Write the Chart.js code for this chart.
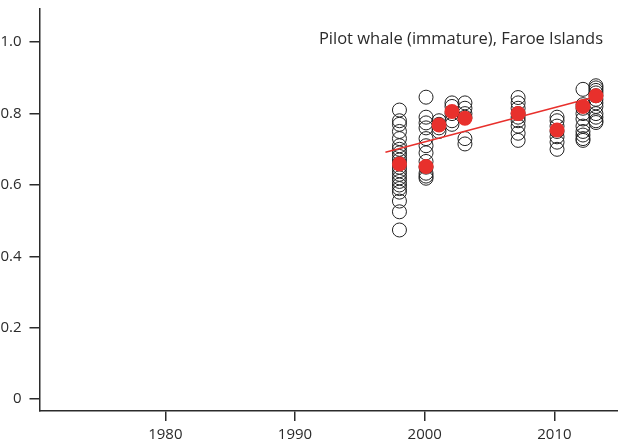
<!DOCTYPE html>
<html>
<head>
<meta charset="utf-8">
<script src="https://cdn.jsdelivr.net/npm/chart.js@4"></script>
<style>
  html, body { margin: 0; padding: 0; background: #fff; }
  #wrap { width: 618px; height: 447px; }
</style>
</head>
<body>
<div id="wrap"><canvas id="chart" width="618" height="447"></canvas></div>
<script>
// sampling years (as placed on the time axis)
const sampleYears = [1998.05, 2000.1, 2001.1, 2002.1, 2003.1, 2007.2, 2010.2, 2012.2, 2013.2];

// individual whales per sampling year
const samples1998 = [0.81, 0.78, 0.77, 0.75, 0.73, 0.71, 0.70, 0.69, 0.68, 0.67, 0.66, 0.65, 0.64, 0.63, 0.62, 0.61, 0.60, 0.59, 0.58, 0.555, 0.525, 0.474];
const samples2000 = [0.846, 0.79, 0.774, 0.76, 0.73, 0.71, 0.69, 0.666, 0.65, 0.633, 0.625, 0.619];
const samples2001 = [0.78, 0.77, 0.76, 0.75];
const samples2002 = [0.83, 0.82, 0.80, 0.78, 0.77];
const samples2003 = [0.83, 0.815, 0.80, 0.79, 0.73, 0.715];
const samples2007 = [0.845, 0.83, 0.815, 0.80, 0.79, 0.78, 0.765, 0.745, 0.725];
const samples2010 = [0.79, 0.78, 0.765, 0.75, 0.735, 0.72, 0.70];
const samples2012 = [0.868, 0.825, 0.815, 0.80, 0.785, 0.765, 0.75, 0.74, 0.73, 0.725];
const samples2013 = [0.878, 0.872, 0.865, 0.858, 0.85, 0.84, 0.83, 0.82, 0.80, 0.79, 0.78, 0.775];

// yearly means (red dots)
const meanValues = [0.659, 0.652, 0.768, 0.806, 0.787, 0.80, 0.754, 0.82, 0.85];

// fitted trend
const trendYears = [1996.97, 2013.69];
const trendValues = [0.692, 0.852];

const xTicks = [1980, 1990, 2000, 2010];
const yTicks = [0, 0.2, 0.4, 0.6, 0.8, 1.0];
const titleText = 'Pilot whale (immature), Faroe Islands';

const allSamples = [samples1998, samples2000, samples2001, samples2002, samples2003,
                    samples2007, samples2010, samples2012, samples2013];

let openPoints = [];
for (let i = 0; i < sampleYears.length; i++) {
    for (let j = 0; j < allSamples[i].length; j++) {
        openPoints.push({ x: sampleYears[i], y: allSamples[i][j] });
    }
}
const meanPoints = sampleYears.map((yr, i) => ({ x: yr, y: meanValues[i] }));
const trendPoints = trendYears.map((yr, i) => ({ x: yr, y: trendValues[i] }));

const FONT = '"Open Sans", "Liberation Sans", sans-serif';
const INK = '#2b2b2b';

// название внутри области графика
const titlePlugin = {
    id: 'innerTitle',
    afterDraw(chart) {
        const ctx = chart.ctx;
        ctx.save();
        ctx.font = '16.5px ' + FONT;
        ctx.fillStyle = INK;
        ctx.textAlign = 'right';
        ctx.textBaseline = 'middle';
        ctx.fillText(titleText, 603, 39);
        ctx.restore();
    }
};

// убираем автоматические отступы под подписи
function noPad(s) {
    s.paddingLeft = 0;
    s.paddingRight = 0;
    s.paddingTop = 0;
    s.paddingBottom = 0;
}

const ctx = document.getElementById('chart').getContext('2d');
const chart = new Chart(ctx, {
    type: 'scatter',
    data: {
        datasets: [
            {
                label: 'samples',
                data: openPoints,
                pointRadius: 7,
                pointBorderWidth: 1,
                pointBorderColor: '#222',
                pointBackgroundColor: 'rgba(0,0,0,0)',
                order: 3
            },
            {
                label: 'trend',
                type: 'line',
                data: trendPoints,
                showLine: true,
                borderColor: '#e8302c',
                borderWidth: 1.6,
                pointRadius: 0,
                fill: false,
                order: 2
            },
            {
                label: 'mean',
                data: meanPoints,
                pointRadius: 7.5,
                pointBorderWidth: 0,
                pointBackgroundColor: '#e8302c',
                order: 1
            }
        ]
    },
    options: {
        responsive: false,
        animation: false,
        layout: { autoPadding: false, padding: { top: 9, right: 0, left: 0, bottom: 0 } },
        plugins: {
            legend: { display: false },
            tooltip: { enabled: false }
        },
        scales: {
            x: {
                type: 'linear',
                min: 1970.3,
                max: 2014.9,
                afterFit: s => { s.height = 36; noPad(s); },
                afterBuildTicks: s => { s.ticks = xTicks.map(v => ({ value: v })); },
                border: { display: true, color: INK, width: 1.5 },
                grid: { drawOnChartArea: false, drawTicks: true, tickLength: 10, color: INK, lineWidth: 1.5 },
                ticks: {
                    color: INK,
                    font: { family: FONT, size: 15 },
                    padding: 5,
                    maxRotation: 0,
                    callback: v => String(v)
                }
            },
            y: {
                type: 'linear',
                min: -0.033,
                max: 1.093,
                afterFit: s => { s.width = 39.5; noPad(s); },
                afterBuildTicks: s => { s.ticks = yTicks.map(v => ({ value: v })); },
                border: { display: true, color: INK, width: 1.5 },
                grid: { drawOnChartArea: false, drawTicks: true, tickLength: 10, color: INK, lineWidth: 1.5 },
                ticks: {
                    color: INK,
                    font: { family: FONT, size: 15 },
                    padding: 8,
                    callback: v => (v === 0 ? '0' : v.toFixed(1))
                }
            }
        }
    },
    plugins: [titlePlugin]
});
</script>
</body>
</html>
